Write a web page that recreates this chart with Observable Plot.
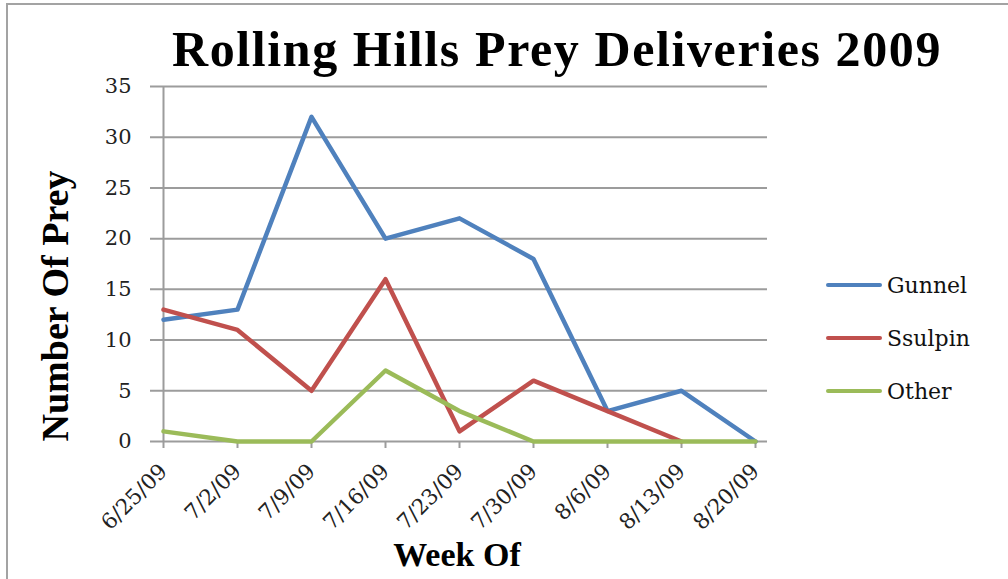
<!DOCTYPE html>
<html><head><meta charset="utf-8">
<script src="https://cdn.jsdelivr.net/npm/d3@7"></script>
<script src="https://cdn.jsdelivr.net/npm/@observablehq/plot@0.6"></script>
<style>
body{margin:0;background:#fff}
#wrap{position:relative;width:1008px;height:579px;overflow:hidden;background:#fff}
.frame{position:absolute;left:6px;top:3px;width:1100px;height:700px;border-top:2px solid #a3a3a3;border-left:2px solid #a3a3a3}
#plot{position:absolute;left:0;top:0}
#title{position:absolute;left:157px;width:800px;top:24px;text-align:center;font:bold 50px/50px "Liberation Serif",serif;letter-spacing:1.6px;color:#000;white-space:nowrap}
#ytitle{position:absolute;left:-145px;top:286px;width:400px;height:40px;text-align:center;font:bold 38px/40px "Liberation Serif",serif;transform:rotate(-90deg);white-space:nowrap}
#xtitle{position:absolute;left:257px;width:400px;top:538px;text-align:center;font:bold 34px/34px "Liberation Serif",serif;white-space:nowrap}
.leg{position:absolute;left:826px;height:24px;display:flex;align-items:center;font:22px "DejaVu Serif",serif;color:#111}
.leg span.sw{display:inline-block;width:56px;height:4px;border-radius:2px;margin-right:5px}
</style></head><body>
<div id="wrap">
<div class="frame"></div>
<div id="title">Rolling Hills Prey Deliveries 2009</div>
<div id="plot"></div>
<div id="ytitle">Number Of Prey</div>
<div id="xtitle">Week Of</div>
<div id="legend"></div>
</div>
<script>
const weeks = ["6/25/09","7/2/09","7/9/09","7/16/09","7/23/09","7/30/09","8/6/09","8/13/09","8/20/09"];
const gunnel = [12, 13, 32, 20, 22, 18, 3, 5, 0];
const ssulpin = [13, 11, 5, 16, 1, 6, 3, 0, null];
const other = [1, 0, 0, 7, 3, 0, 0, 0, 0];
const seriesNames = ["Gunnel", "Ssulpin", "Other"];
const seriesColors = ["#4f81bd", "#c0504d", "#9bbb59"];
const yTicks = [0, 5, 10, 15, 20, 25, 30, 35];

const seriesValues = [gunnel, ssulpin, other];
const data = [];
seriesNames.forEach((s, k) => {
  weeks.forEach((w, i) => {
    const v = seriesValues[k][i];
    if (v != null) data.push({week: w, series: s, value: v});
  });
});

const chart = Plot.plot({
  width: 1008,
  height: 579,
  marginLeft: 150,
  marginRight: 241,
  marginTop: 86,
  marginBottom: 138,
  style: {background: "transparent", overflow: "visible"},
  x: {type: "point", domain: weeks, padding: 0, insetLeft: 10, insetRight: 10, label: null},
  y: {domain: [0, 35], label: null, axis: null},
  color: {domain: seriesNames, range: seriesColors},
  marks: [
    Plot.ruleY(yTicks, {stroke: "#9c9c9c", strokeWidth: 2}),
    Plot.ruleX([weeks[0]], {x: d => d, y1: 0, y2: 35, stroke: "#9c9c9c", strokeWidth: 2}),
    Plot.axisX({ticks: weeks, tickSize: 7, tickFormat: () => "", stroke: "#9c9c9c", strokeWidth: 2, label: null}),
    Plot.text(yTicks, {y: d => d, frameAnchor: "left", textAnchor: "end", dx: -19, text: d => String(d), fontSize: 21, fontFamily: "DejaVu Serif", fill: "#222"}),
    Plot.text(weeks, {x: d => d, frameAnchor: "bottom", textAnchor: "end", rotate: -45, dx: 5, dy: 31, text: d => d, fontSize: 21.5, fontFamily: "DejaVu Serif", fill: "#222"}),
    Plot.line(data, {x: "week", y: "value", z: "series", stroke: "series", strokeWidth: 4.5, strokeLinejoin: "round", strokeLinecap: "round"})
  ]
});
document.getElementById("plot").appendChild(chart);

const legend = document.getElementById("legend");
const legY = [285, 338, 391];
seriesNames.forEach((s, k) => {
  const d = document.createElement("div");
  d.className = "leg";
  d.style.top = (legY[k] - 12) + "px";
  d.innerHTML = `<span class="sw" style="background:${seriesColors[k]}"></span><span>${s}</span>`;
  legend.appendChild(d);
});
</script>
</body></html>
